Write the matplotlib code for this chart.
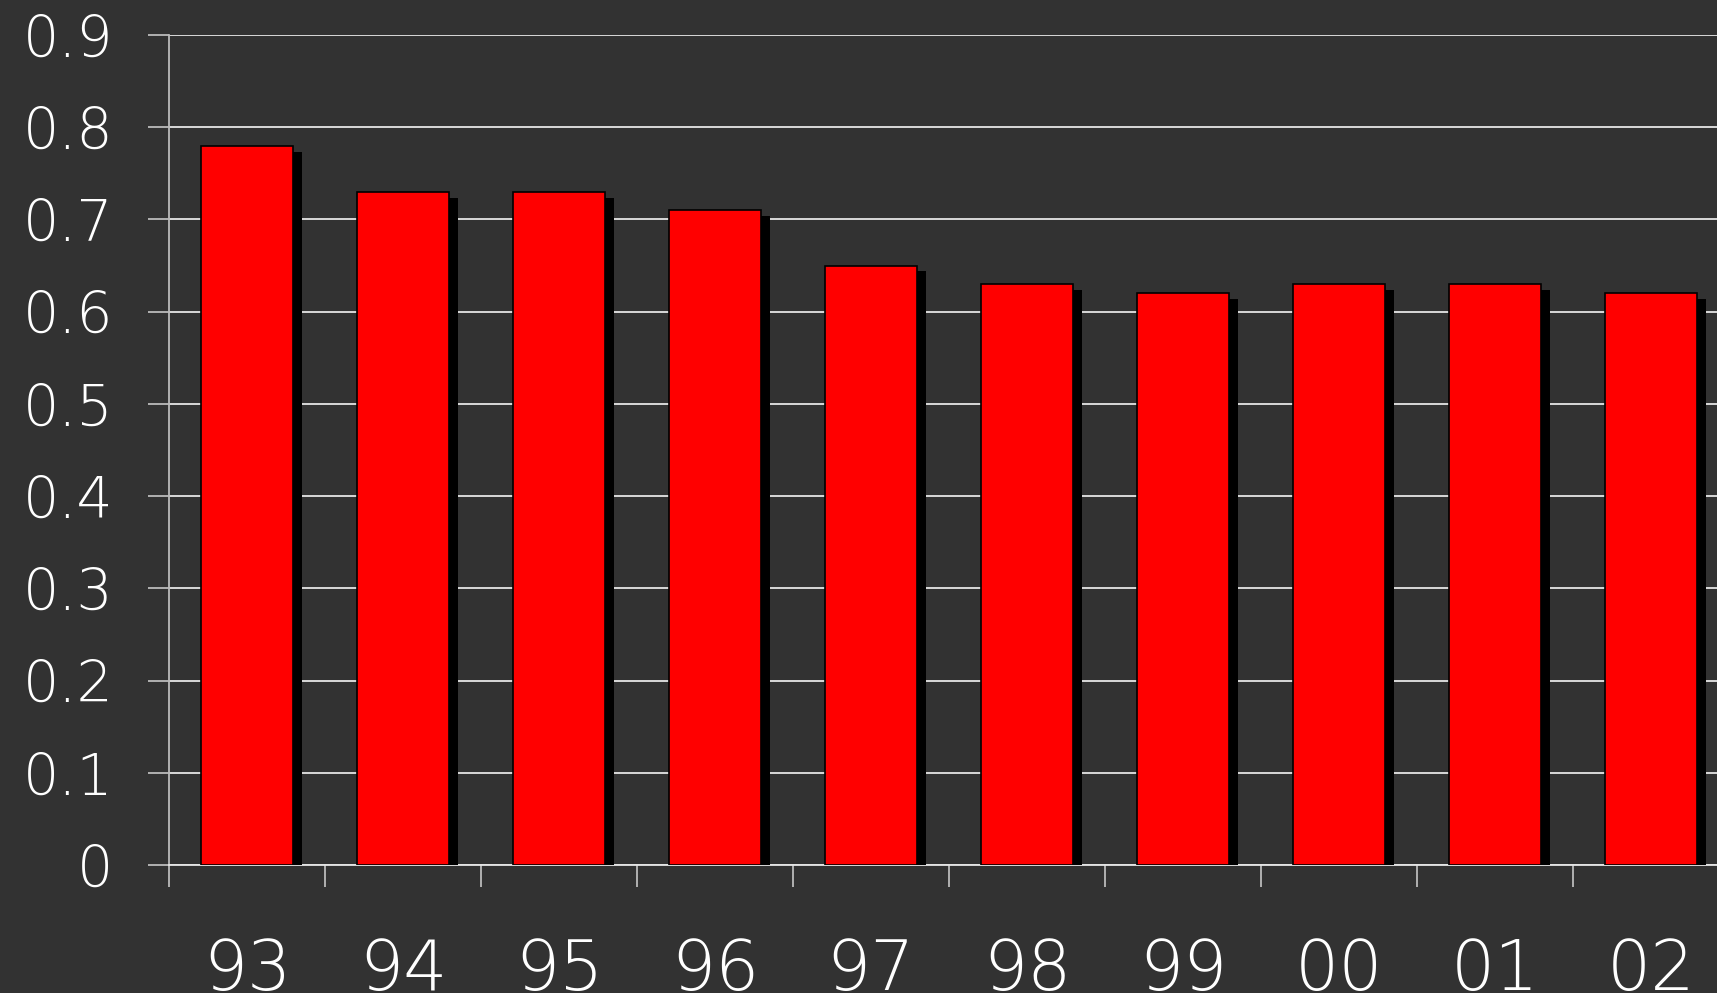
import matplotlib
matplotlib.use("Agg")
import matplotlib.pyplot as plt
import matplotlib.patheffects as pe
import numpy as np
from matplotlib.ticker import FixedLocator

years = ["93", "94", "95", "96", "97", "98", "99", "00", "01", "02"]
values = [0.78, 0.73, 0.73, 0.71, 0.65, 0.63, 0.62, 0.63, 0.63, 0.62]
yticks = [0, 0.1, 0.2, 0.3, 0.4, 0.5, 0.6, 0.7, 0.8, 0.9]
ytick_labels = ["0", "0.1", "0.2", "0.3", "0.4", "0.5", "0.6", "0.7", "0.8", "0.9"]

bg = "#323232"
plt.rcParams["font.family"] = ["DejaVu Sans"]
plt.rcParams["font.weight"] = "light"

fig = plt.figure(figsize=(17.17, 9.93), dpi=100, facecolor=bg)
ax = fig.add_axes([0.0984, 0.1289, 0.9086, 0.8359])
ax.set_facecolor(bg)

x = np.arange(len(years))
# black drop shadow down-right of each bar
shadow = [pe.SimplePatchShadow(offset=(6.5, -4.3), shadow_rgbFace="black", alpha=1.0), pe.Normal()]
ax.bar(x, values, width=0.585, color="#ff0000", edgecolor="black", linewidth=1.2,
       zorder=3, path_effects=shadow)

ax.set_xlim(-0.5, len(years) - 0.5)
ax.set_ylim(0, 0.9)

ax.set_yticks(yticks)
ax.set_yticklabels(ytick_labels)
ax.set_xticks(x)
ax.set_xticklabels(years)
ax.xaxis.set_minor_locator(FixedLocator(np.arange(len(years) + 1) - 0.5))

ax.yaxis.grid(True, color="#e6e6e6", linewidth=1.3, zorder=0)
ax.set_axisbelow(True)

ax.tick_params(axis="y", direction="out", length=15, width=1.3, color="#bbbbbb",
               labelcolor="white", labelsize=41, pad=25)
ax.tick_params(axis="x", which="major", length=0, labelcolor="white", labelsize=50, pad=52)
ax.tick_params(axis="x", which="minor", direction="out", length=16, width=1.3, color="#bbbbbb")

for s in ["top", "right"]:
    ax.spines[s].set_visible(False)
ax.spines["left"].set_color("#bbbbbb")
ax.spines["left"].set_linewidth(1.3)
ax.spines["bottom"].set_color("#e6e6e6")
ax.spines["bottom"].set_linewidth(1.3)

fig.savefig("out.png", dpi=100, facecolor=bg)
